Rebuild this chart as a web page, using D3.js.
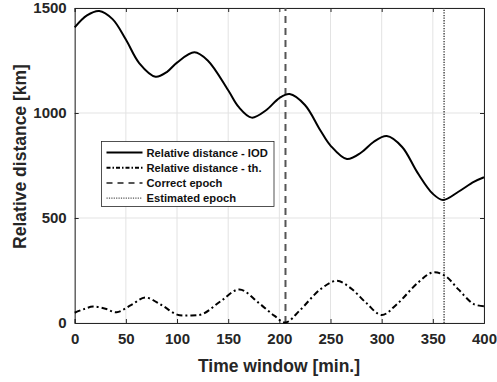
<!DOCTYPE html>
<html>
<head>
<meta charset="utf-8">
<script src="https://cdn.jsdelivr.net/npm/d3@7"></script>
<style>
  body { margin: 0; background: #fff; }
  text { font-family: "Liberation Sans", Arial, Helvetica, sans-serif; font-weight: bold; }
</style>
</head>
<body>
<svg id="chart" width="497" height="382"></svg>
<script>
// time [min.] and relative distance [km]
var iod_t = [0, 12, 24, 37, 50, 63, 79, 90, 100, 117, 130, 150, 160, 173, 187, 200, 210, 225, 240, 250, 266, 280, 292, 305, 320, 335, 350, 360, 375, 390, 400];
var iod_v = [1408, 1465, 1486, 1447, 1350, 1238, 1173, 1195, 1240, 1289, 1250, 1108, 1030, 978, 1013, 1071, 1090, 1038, 918, 845, 781, 812, 862, 890, 838, 716, 615, 586, 625, 672, 694];

var th_t = [0, 9, 18, 30, 41, 55, 69, 85, 100, 112, 125, 143, 161, 180, 195, 206, 220, 240, 256, 270, 285, 300, 315, 335, 350, 362, 375, 390, 400];
var th_v = [49, 66, 78, 68, 51, 85, 121, 85, 40, 36, 43, 105, 160, 95, 35, 2, 60, 160, 201, 165, 95, 38, 90, 190, 241, 225, 160, 90, 80];

var correct_epoch = 206;
var estimated_epoch = 361;

var x_ticks = [0, 50, 100, 150, 200, 250, 300, 350, 400];
var y_ticks = [0, 500, 1000, 1500];

var legend_labels = ["Relative distance - IOD", "Relative distance - th.", "Correct epoch", "Estimated epoch"];

var svg = d3.select("#chart");
var margin = {left: 74.7, right: 13, top: 8, bottom: 59};
var width = 497 - margin.left - margin.right;
var height = 382 - margin.top - margin.bottom;

var x = d3.scaleLinear().domain([0, 400]).range([margin.left, margin.left + width]);
var y = d3.scaleLinear().domain([0, 1500]).range([margin.top + height, margin.top]);

var g = svg.append("g");

// grid
g.selectAll("line.vgrid").data(x_ticks).enter().append("line")
  .attr("x1", function(d) { return x(d); })
  .attr("x2", function(d) { return x(d); })
  .attr("y1", y(0)).attr("y2", y(1500))
  .style("stroke", "#e3e3e3").style("stroke-width", 1);
g.selectAll("line.hgrid").data(y_ticks).enter().append("line")
  .attr("y1", function(d) { return y(d); })
  .attr("y2", function(d) { return y(d); })
  .attr("x1", x(0)).attr("x2", x(400))
  .style("stroke", "#e3e3e3").style("stroke-width", 1);

// axes
var xAxis = d3.axisBottom(x).tickValues(x_ticks).tickSize(-4).tickPadding(10).tickFormat(d3.format("d"));
var yAxis = d3.axisLeft(y).tickValues(y_ticks).tickSize(-4).tickPadding(8).tickFormat(d3.format("d"));
var xTop = d3.axisTop(x).tickValues(x_ticks).tickSize(-4).tickFormat("");
var yRight = d3.axisRight(y).tickValues(y_ticks).tickSize(-4).tickFormat("");

function styleAxis(sel) {
  sel.select(".domain").style("stroke", "#262626").style("stroke-width", 1);
  sel.selectAll(".tick line").style("stroke", "#262626");
  sel.selectAll("text").style("fill", "#262626").style("font-size", "15px")
    .style("font-family", "'Liberation Sans', Arial, sans-serif").style("font-weight", "bold");
}

styleAxis(g.append("g").attr("transform", "translate(0," + y(0) + ")").call(xAxis));
styleAxis(g.append("g").attr("transform", "translate(" + x(0) + ",0)").call(yAxis));
styleAxis(g.append("g").attr("transform", "translate(0," + y(1500) + ")").call(xTop));
styleAxis(g.append("g").attr("transform", "translate(" + x(400) + ",0)").call(yRight));

// axis titles
svg.append("text")
  .attr("x", 279).attr("y", 372)
  .attr("text-anchor", "middle")
  .style("font-size", "17.5px").style("fill", "#262626")
  .text("Time window [min.]");
svg.append("text")
  .attr("transform", "translate(25.5,156.5) rotate(-90)")
  .attr("text-anchor", "middle")
  .style("font-size", "17.5px").style("fill", "#262626")
  .text("Relative distance [km]");

// curves
var line = d3.line()
  .x(function(d) { return x(d[0]); })
  .y(function(d) { return y(d[1]); })
  .curve(d3.curveCatmullRom.alpha(0.5));

var iod = iod_t.map(function(t, i) { return [t, iod_v[i]]; });
var th = th_t.map(function(t, i) { return [t, th_v[i]]; });

// epoch lines
g.append("line")
  .attr("x1", x(correct_epoch)).attr("x2", x(correct_epoch))
  .attr("y1", y(0)).attr("y2", y(1500))
  .style("stroke", "#555").style("stroke-width", 2)
  .style("stroke-dasharray", "7,5");
g.append("line")
  .attr("x1", x(estimated_epoch)).attr("x2", x(estimated_epoch))
  .attr("y1", y(0)).attr("y2", y(1500))
  .style("stroke", "#555").style("stroke-width", 1.6)
  .style("stroke-dasharray", "1.3,1.3");

g.append("path").datum(iod).attr("d", line)
  .style("fill", "none").style("stroke", "black").style("stroke-width", 2);
g.append("path").datum(th).attr("d", line)
  .style("fill", "none").style("stroke", "black").style("stroke-width", 2)
  .style("stroke-dasharray", "6,3,2,3");

// legend
var lg = svg.append("g").attr("transform", "translate(101.5,141.5)");
lg.append("rect").attr("width", 172.5).attr("height", 65)
  .style("fill", "white").style("stroke", "#262626").style("stroke-width", 0.8);

var legend_styles = [
  {stroke: "black", width: 2, dash: null},
  {stroke: "black", width: 2, dash: "4,2,1.5,2"},
  {stroke: "#555", width: 2, dash: "6,5"},
  {stroke: "#555", width: 1.4, dash: "1.2,1.2"}
];

lg.selectAll("g.item").data(legend_labels).enter().append("g")
  .attr("transform", function(d, i) { return "translate(0," + (11 + i * 15.2) + ")"; })
  .each(function(d, i) {
    var s = legend_styles[i];
    var item = d3.select(this);
    item.append("line").attr("x1", 5).attr("x2", 41).attr("y1", 0).attr("y2", 0)
      .style("stroke", s.stroke).style("stroke-width", s.width)
      .style("stroke-dasharray", s.dash);
    item.append("text").attr("x", 45).attr("y", 4)
      .style("font-size", "11.2px").style("fill", "#111")
      .text(d);
  });
</script>
</body>
</html>
